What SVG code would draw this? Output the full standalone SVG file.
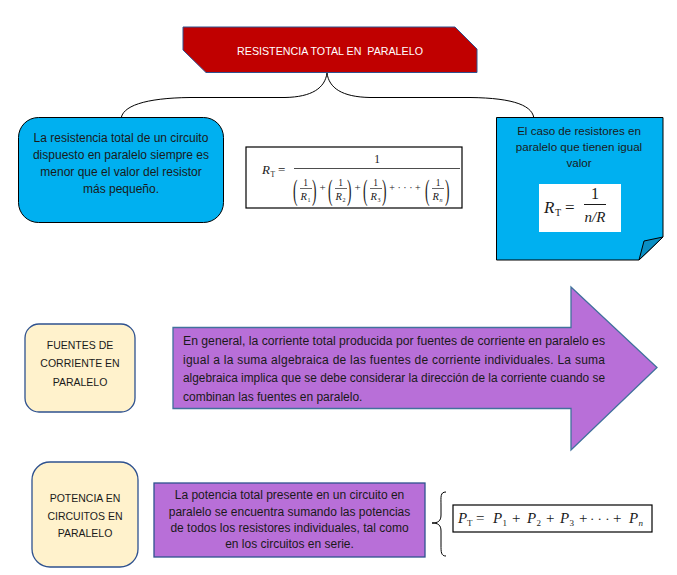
<svg xmlns="http://www.w3.org/2000/svg" width="677" height="575" viewBox="0 0 677 575">
<style>
.t{font-family:"Liberation Sans",Arial,sans-serif;font-size:12px;fill:#1a1a1a}
.k{font-size:10.5px}
.c{text-anchor:middle}
.m{font-family:"Liberation Serif","Times New Roman",serif;fill:#1a1a1a}
.i{font-style:italic}
.ln{fill:none;stroke:#000;stroke-width:1}
.blue{fill:#00B0F0;stroke:#000;stroke-width:1}
.cream{fill:#FFF2CC;stroke:#2F528F;stroke-width:1.3}
.purple{fill:#B86FD8;stroke:#41719C;stroke-width:1.3}
.fbox{fill:#fff;stroke:#000;stroke-width:1.2}
</style>
<rect width="677" height="575" fill="#fff"/>
<g id="connectors">
<path class="ln" d="M121,120 C121,106 145,98 190,97.5 L285,97.5 C312,97 325,88 327,73 C329,88 342,97 370,97.5 L470,97.5 C515,98 534,106 534,120"/>
<path class="ln" d="M446,492 C440,492 441,497 441,505 L441,515 C441,521 438,523 432,523 C438,523 441,525 441,531 L441,545 C441,552 441,556 446,556"/>
</g>
<g id="title">
<path d="M183,27 H455 L477,49 V72.5 H206 L183,50 Z" fill="#C00000" stroke="#2F528F" stroke-width="1"/>
<text class="t k c" x="330" y="54.5" style="fill:#fff;font-size:10.7px">RESISTENCIA TOTAL EN&#160; PARALELO</text>
</g>
<g id="node-menor">
<rect class="blue" x="18.5" y="117.5" width="205" height="105" rx="20"/>
<text class="t c" x="121" y="142">La resistencia total de un circuito</text>
<text class="t c" x="121" y="159">dispuesto en paralelo siempre es</text>
<text class="t c" x="121" y="176">menor que el valor del resistor</text>
<text class="t c" x="121" y="193">más pequeño.</text>
</g>
<g id="node-formula1">
<rect class="fbox" x="246" y="147" width="216" height="61"/>
<text class="m i" x="262" y="174" font-size="13">R</text>
<text class="m" x="270.5" y="177" font-size="7.5">T</text>
<text class="m" x="278" y="174" font-size="13">=</text>
<line x1="294" y1="168.5" x2="460" y2="168.5" stroke="#000" stroke-width="0.7"/>
<text class="m c" x="377" y="163" font-size="11.5">1</text>
<text class="m" transform="translate(293,199.5) scale(1,2.2)" font-size="13.5">(</text>
<text class="m" transform="translate(312,199.5) scale(1,2.2)" font-size="13.5">)</text>
<text class="m c" x="305.5" y="186" font-size="9.5">1</text>
<line x1="300" y1="188.5" x2="312" y2="188.5" stroke="#000" stroke-width="0.6"/>
<text class="m i" x="300.5" y="199.5" font-size="10.5">R</text><text class="m" x="307.5" y="201.5" font-size="6">1</text>
<text class="m c" x="322.5" y="191" font-size="11">+</text>
<text class="m" transform="translate(328,199.5) scale(1,2.2)" font-size="13.5">(</text>
<text class="m" transform="translate(347,199.5) scale(1,2.2)" font-size="13.5">)</text>
<text class="m c" x="340.5" y="186" font-size="9.5">1</text>
<line x1="335" y1="188.5" x2="347" y2="188.5" stroke="#000" stroke-width="0.6"/>
<text class="m i" x="335.5" y="199.5" font-size="10.5">R</text><text class="m" x="342.5" y="201.5" font-size="6">2</text>
<text class="m c" x="357.5" y="191" font-size="11">+</text>
<text class="m" transform="translate(363,199.5) scale(1,2.2)" font-size="13.5">(</text>
<text class="m" transform="translate(382,199.5) scale(1,2.2)" font-size="13.5">)</text>
<text class="m c" x="375.5" y="186" font-size="9.5">1</text>
<line x1="370" y1="188.5" x2="382" y2="188.5" stroke="#000" stroke-width="0.6"/>
<text class="m i" x="370.5" y="199.5" font-size="10.5">R</text><text class="m" x="377.5" y="201.5" font-size="6">3</text>
<text class="m c" x="405" y="191" font-size="10">+ · · · +</text>
<text class="m" transform="translate(425,199.5) scale(1,2.2)" font-size="13.5">(</text>
<text class="m" transform="translate(445,199.5) scale(1,2.2)" font-size="13.5">)</text>
<text class="m c" x="438" y="186" font-size="9.5">1</text>
<line x1="432" y1="188.5" x2="444" y2="188.5" stroke="#000" stroke-width="0.6"/>
<text class="m i" x="432.5" y="199.5" font-size="10.5">R</text><text class="m i" x="439.5" y="201.5" font-size="6">n</text>
</g>
<g id="node-igual">
<path class="blue" d="M496.5,117.5 H663 V237 L639,260 H496.5 Z"/>
<path d="M639,260 L644,241 L663,237 Z" fill="#0A8FC4" stroke="#000" stroke-width="1"/>
<text class="t c" x="579" y="135" style="font-size:11.6px">El caso de resistores en</text>
<text class="t c" x="579" y="151" style="font-size:11.6px">paralelo que tienen igual</text>
<text class="t c" x="579" y="167" style="font-size:11.6px">valor</text>
<rect x="539" y="184" width="82" height="48" fill="#fff"/>
<text class="m i" x="544" y="213" font-size="17">R</text>
<text class="m" x="555" y="216" font-size="10">T</text>
<text class="m" x="565" y="213" font-size="17">=</text>
<line x1="584" y1="204.5" x2="606" y2="204.5" stroke="#000" stroke-width="0.9"/>
<text class="m c" x="595" y="199" font-size="16">1</text>
<text class="m i c" x="595" y="222" font-size="15">n/R</text>
</g>
<g id="node-fuentes">
<rect class="cream" x="25" y="324" width="110" height="88" rx="14"/>
<text class="t k c" x="80" y="349">FUENTES DE</text>
<text class="t k c" x="80" y="367">CORRIENTE EN</text>
<text class="t k c" x="80" y="386">PARALELO</text>
</g>
<g id="node-arrow">
<path class="purple" d="M173,327.5 H571 V287 L657,367.5 L571,450 V408.5 H173 Z"/>
<text class="t" x="183" y="345" textLength="422" lengthAdjust="spacingAndGlyphs">En general, la corriente total producida por fuentes de corriente en paralelo es</text>
<text class="t" x="183" y="363.5" textLength="422" lengthAdjust="spacing">igual a la suma algebraica de las fuentes de corriente individuales. La suma</text>
<text class="t" x="183" y="382" textLength="422" lengthAdjust="spacingAndGlyphs">algebraica implica que se debe considerar la dirección de la corriente cuando se</text>
<text class="t" x="183" y="400.5">combinan las fuentes en paralelo.</text>
</g>
<g id="node-potencia">
<rect class="cream" x="32" y="462" width="106" height="105" rx="18"/>
<text class="t k c" x="85" y="502">POTENCIA EN</text>
<text class="t k c" x="85" y="520">CIRCUITOS EN</text>
<text class="t k c" x="85" y="537">PARALELO</text>
</g>
<g id="node-potencia-texto">
<rect x="154" y="483" width="271" height="74" fill="#B86FD8" stroke="#2F528F" stroke-width="1.3"/>
<text class="t c" x="289.5" y="499">La potencia total presente en un circuito en</text>
<text class="t c" x="289.5" y="516">paralelo se encuentra sumando las potencias</text>
<text class="t c" x="289.5" y="532">de todos los resistores individuales, tal como</text>
<text class="t c" x="289.5" y="548">en los circuitos en serie.</text>
</g>
<g id="node-formula3">
<rect class="fbox" x="453" y="505" width="199" height="27"/>
<g class="m" font-size="15">
<text class="i" x="458" y="523">P</text><text x="467" y="526" font-size="9">T</text>
<text x="476" y="523">=</text>
<text class="i" x="493" y="523">P</text><text x="502.5" y="526" font-size="9">1</text>
<text x="512" y="523">+</text>
<text class="i" x="527" y="523">P</text><text x="536.5" y="526" font-size="9">2</text>
<text x="546" y="523">+</text>
<text class="i" x="560" y="523">P</text><text x="569.5" y="526" font-size="9">3</text>
<text x="579" y="523">+</text>
<text x="590" y="523" font-size="13">· · ·</text>
<text x="613" y="523">+</text>
<text class="i" x="629" y="523">P</text><text class="i" x="638.5" y="526" font-size="9">n</text>
</g>
</g>
</svg>
